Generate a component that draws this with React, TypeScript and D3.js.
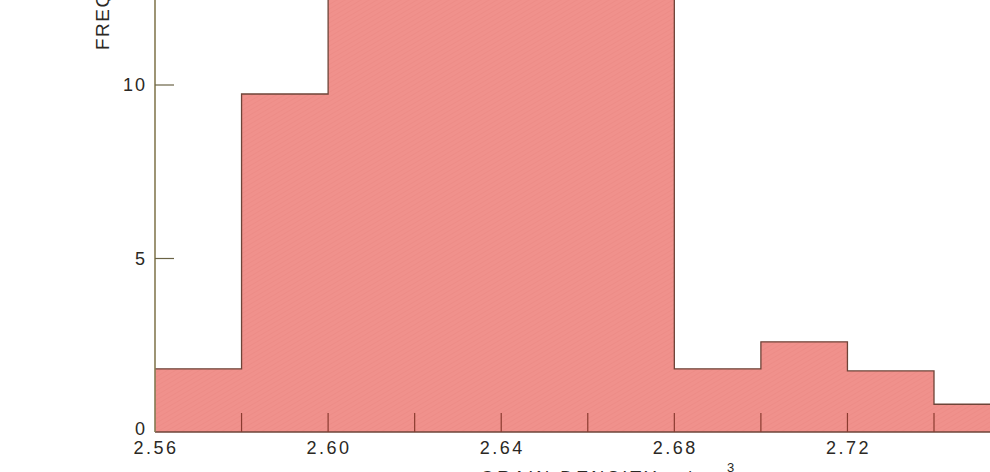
import React from "react";
import * as d3 from "d3";

// Bin left edges (g/cm³) and frequency per bin
const binStarts = [2.56, 2.58, 2.6, 2.62, 2.64, 2.66, 2.68, 2.7, 2.72, 2.74];
const binWidth = 0.02;
const frequencies = [1.82, 9.74, 16, 21, 19, 14, 1.82, 2.6, 1.76, 0.8];
const xTickLabels = [2.56, 2.6, 2.64, 2.68, 2.72];
const xMinorTicks = [2.58, 2.6, 2.62, 2.64, 2.66, 2.68, 2.7, 2.72, 2.74];
const yTickValues = [0, 5, 10];
const yLabel = "FREQUENCY, %";
const xLabel = "GRAIN DENSITY, g/cm";

const W = 990;
const H = 472;

export default function App() {
  const x = d3.scaleLinear().domain([2.56, 2.74]).range([155, 934]);
  const y = d3.scaleLinear().domain([0, 10]).range([432, 85]);

  const pts: [number, number][] = binStarts.map((b, i) => [b, frequencies[i]]);
  const last = binStarts[binStarts.length - 1] + binWidth;
  pts.push([last, frequencies[frequencies.length - 1]]);

  const area = d3
    .area<[number, number]>()
    .x((d) => x(d[0]))
    .y0(y(0))
    .y1((d) => y(d[1]))
    .curve(d3.curveStepAfter);
  const line = d3
    .line<[number, number]>()
    .x((d) => x(d[0]))
    .y((d) => y(d[1]))
    .curve(d3.curveStepAfter);

  const font = "'Liberation Sans', Arial, Helvetica, sans-serif";
  const textColor = "#2b2824";

  return (
    <svg
      width={W}
      height={H}
      style={{ position: "absolute", left: 0, top: 0, background: "#fff" }}
    >
      <defs>
        <pattern id="hatch" width="4" height="4" patternUnits="userSpaceOnUse" patternTransform="rotate(-30)">
          <rect width="4" height="4" fill="#f0918c" />
          <line x1="0" y1="0" x2="4" y2="0" stroke="#ea8883" strokeWidth="1" />
        </pattern>
      </defs>
      <path d={area(pts) || ""} fill="url(#hatch)" />
      <path d={line(pts) || ""} fill="none" stroke="#6e4438" strokeWidth={1.3} />
      {/* bottom edge */}
      <line x1={x(2.56)} x2={W} y1={y(0)} y2={y(0)} stroke="#6e4438" strokeWidth={1.3} />
      {/* x ticks inside bars */}
      {xMinorTicks.map((t) => (
        <line key={t} x1={x(t)} x2={x(t)} y1={y(0)} y2={y(0) - 19} stroke="#8a3b30" strokeWidth={1.2} />
      ))}
      {/* y axis */}
      <line x1={x(2.56)} x2={x(2.56)} y1={0} y2={y(0)} stroke="#857a52" strokeWidth={1.6} />
      {yTickValues.map((t) => (
        <g key={t}>
          {t > 0 && (
            <line x1={x(2.56)} x2={x(2.56) + 19} y1={y(t)} y2={y(t)} stroke="#6b6345" strokeWidth={1.2} />
          )}
          <text
            x={x(2.56) - 8}
            y={t === 0 ? y(t) - 3 : y(t)}
            dy="0.35em"
            textAnchor="end"
            fontFamily={font}
            fontSize={18}
            letterSpacing={2}
            fill={textColor}
          >
            {t}
          </text>
        </g>
      ))}
      {xTickLabels.map((t) => (
        <text
          key={t}
          x={x(t) + 1}
          y={454}
          textAnchor="middle"
          fontFamily={font}
          fontSize={18}
          letterSpacing={2.5}
          fill={textColor}
        >
          {t.toFixed(2)}
        </text>
      ))}
      <text
        transform={`translate(109,50) rotate(-90)`}
        fontFamily={font}
        fontSize={19}
        letterSpacing={1.5}
        fill={textColor}
      >
        {yLabel}
      </text>
      <text
        x={724}
        y={484}
        textAnchor="end"
        fontFamily={font}
        fontSize={18}
        letterSpacing={3}
        fill={textColor}
      >
        {xLabel}
      </text>
      <text x={727} y={472} fontFamily={font} fontSize={13} fill={textColor}>
        3
      </text>
    </svg>
  );
}
